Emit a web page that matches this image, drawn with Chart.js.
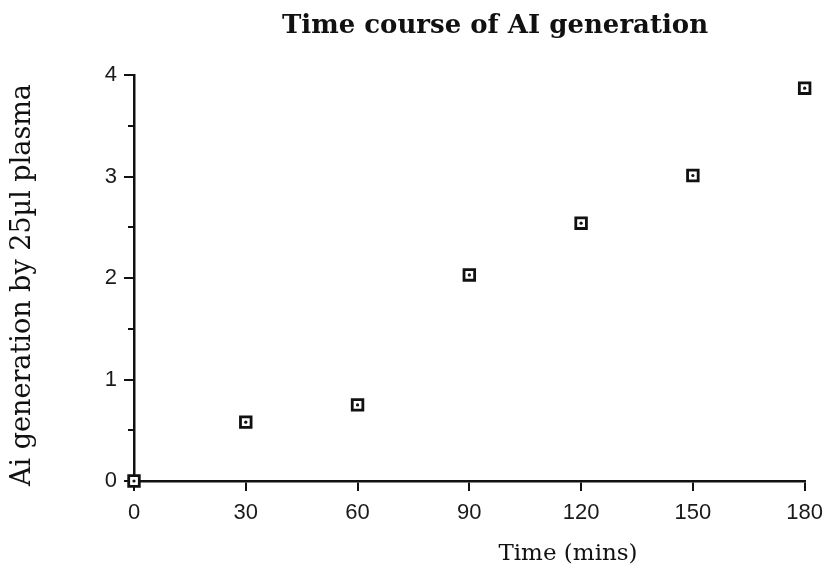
<!DOCTYPE html>
<html>
<head>
<meta charset="utf-8">
<title>Time course of AI generation</title>
<script src="https://cdn.jsdelivr.net/npm/chart.js@4.4.1/dist/chart.umd.min.js"></script>
<style>
  html, body { margin: 0; padding: 0; background: #fff; }
  #wrap { width: 832px; height: 567px; position: relative; }
</style>
</head>
<body>
<div id="wrap"><canvas id="aiChart" width="832" height="567"></canvas></div>
<script>
// time points (minutes) and AI generated by 25 µl plasma
const timeMins = [0, 30, 60, 90, 120, 150, 180];
const aiGeneration = [0, 0.58, 0.75, 2.03, 2.54, 3.01, 3.87];

const chartTitle = 'Time course of AI generation';
const xLabel = 'Time (mins)';
const yLabel = 'Ai generation by 25\u00b5l plasma';

const points = timeMins.map((t, i) => ({ x: t, y: aiGeneration[i] }));

const ink = '#111';
const serif = '"DejaVu Serif", "Liberation Serif", serif';

// title, axis titles and the short half-unit ticks on y
const extras = {
  id: 'extras',
  afterDraw(chart) {
    const ctx = chart.ctx;
    const y = chart.scales.y;
    ctx.save();
    ctx.strokeStyle = ink;
    ctx.lineWidth = 2;
    for (let v = 0.5; v < 4; v += 1) {
      const py = Math.round(y.getPixelForValue(v));
      ctx.beginPath();
      ctx.moveTo(y.right - 6, py);
      ctx.lineTo(y.right, py);
      ctx.stroke();
    }

    ctx.fillStyle = ink;
    ctx.textAlign = 'center';
    ctx.textBaseline = 'alphabetic';
    ctx.font = 'bold 26px ' + serif;
    ctx.fillText(chartTitle, 495, 33);

    ctx.font = '23px ' + serif;
    ctx.fillText(xLabel, 568, 560);

    ctx.font = '27px ' + serif;
    ctx.translate(30, 285);
    ctx.rotate(-Math.PI / 2);
    ctx.fillText(yLabel, 0, 0);
    ctx.restore();
  }
};

new Chart(document.getElementById('aiChart').getContext('2d'), {
  type: 'scatter',
  data: {
    datasets: [
      {
        // dot in the middle of each square, drawn on top
        label: 'centre',
        data: points,
        order: 1,
        pointStyle: 'circle',
        pointRadius: 1.6,
        pointHoverRadius: 1.6,
        borderWidth: 0,
        borderColor: ink,
        backgroundColor: ink,
        clip: false
      },
      {
        label: 'AI generation',
        data: points,
        order: 2,
        pointStyle: 'rect',
        pointRadius: 7.5,
        pointHoverRadius: 7.5,
        borderColor: ink,
        backgroundColor: '#fff',
        borderWidth: 2.8,
        clip: false
      }
    ]
  },
  options: {
    responsive: false,
    animation: false,
    events: [],
    layout: { padding: { left: 0, top: 75, right: 15, bottom: 0 } },
    plugins: {
      legend: { display: false },
      tooltip: { enabled: false },
      title: { display: false }
    },
    scales: {
      x: {
        type: 'linear',
        min: 0,
        max: 180,
        afterFit: s => { s.height = 86; },
        ticks: {
          stepSize: 30,
          padding: 9,
          color: '#1a1a1a',
          font: { family: '"Liberation Sans", Arial, sans-serif', size: 22 }
        },
        grid: {
          drawOnChartArea: false,
          color: ink,
          lineWidth: 2,
          tickLength: 10
        },
        border: { display: true, color: ink, width: 2.5 }
      },
      y: {
        type: 'linear',
        min: 0,
        max: 4,
        afterFit: s => { s.width = 134; },
        ticks: {
          stepSize: 1,
          padding: 7,
          color: '#1a1a1a',
          font: { family: '"Liberation Sans", Arial, sans-serif', size: 22 }
        },
        grid: {
          drawOnChartArea: false,
          color: ink,
          lineWidth: 2,
          tickLength: 10
        },
        border: { display: true, color: ink, width: 2.5 }
      }
    }
  },
  plugins: [extras]
});
</script>
</body>
</html>
